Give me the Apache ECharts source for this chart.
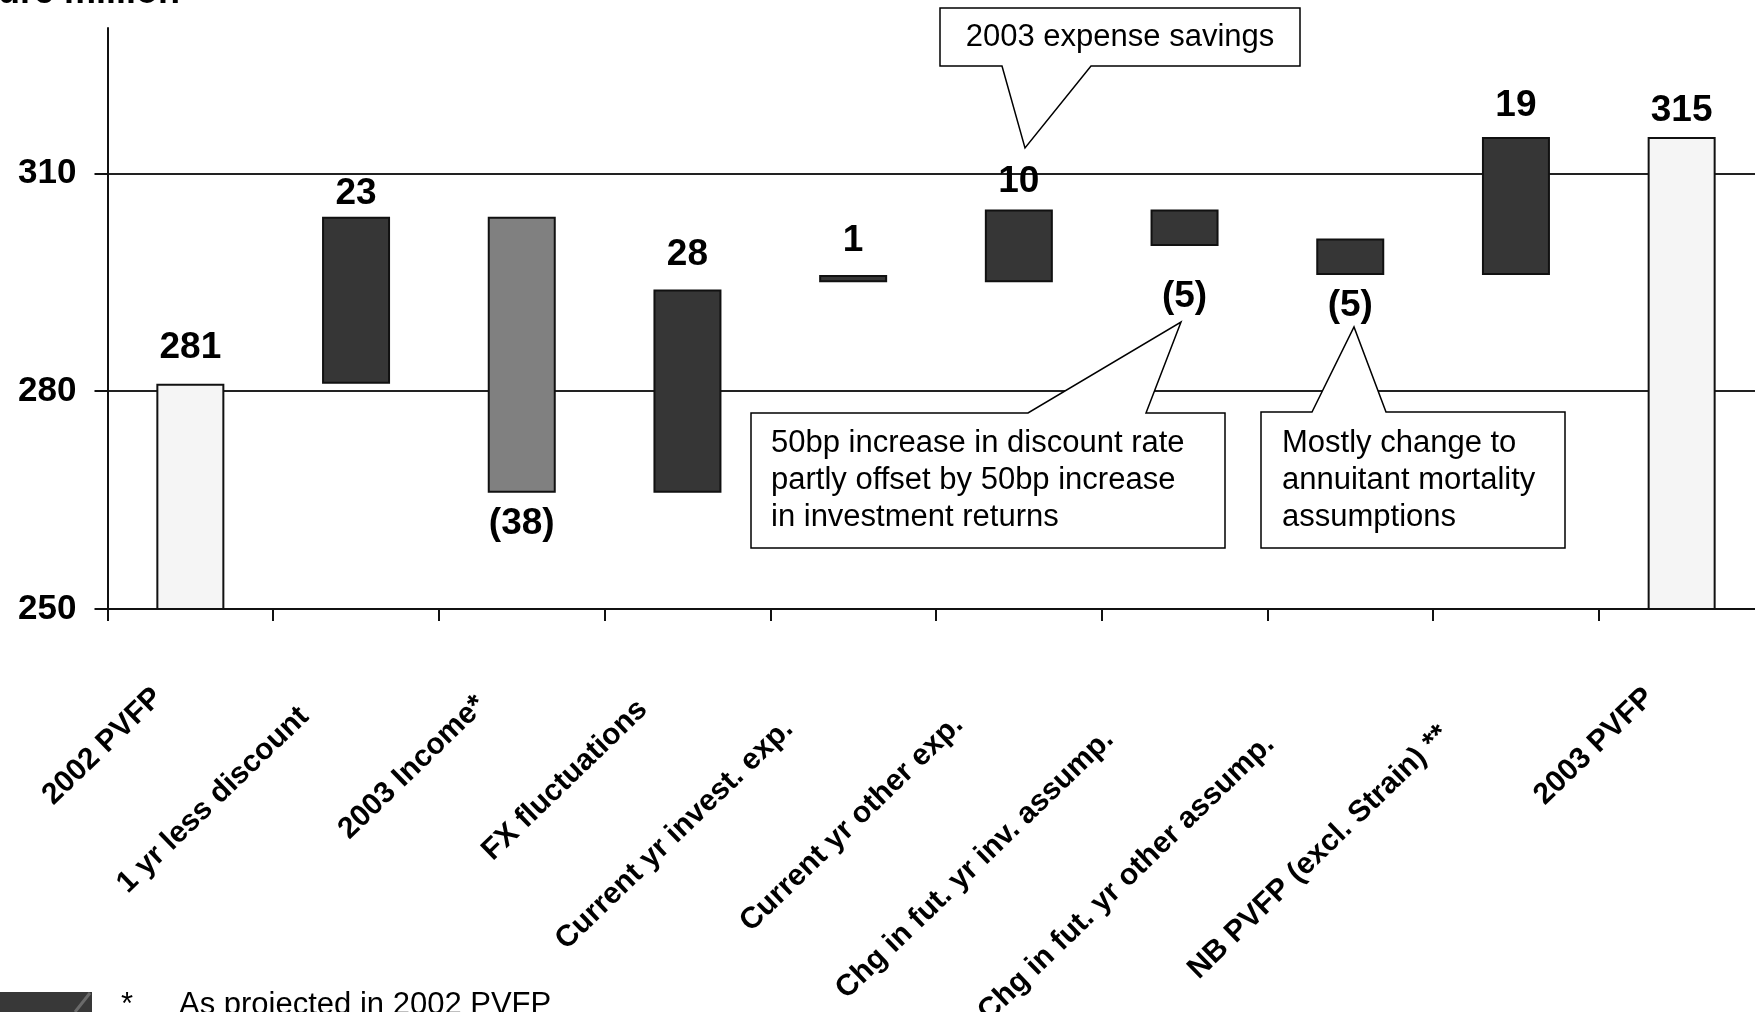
<!DOCTYPE html>
<html>
<head>
<meta charset="utf-8">
<script src="https://cdn.jsdelivr.net/npm/echarts@6/dist/echarts.min.js"></script>
<style>
  html, body { margin: 0; padding: 0; background: #ffffff; }
  #chart { width: 1755px; height: 1012px; }
</style>
</head>
<body>
<div id="chart"></div>
<script>
// PVFP movement 2002 -> 2003
const categories = [
  '2002 PVFP',
  '1 yr less discount',
  '2003 Income*',
  'FX fluctuations',
  'Current yr invest. exp.',
  'Current yr other exp.',
  'Chg in fut. yr inv. assump.',
  'Chg in fut. yr other assump.',
  'NB PVFP (excl. Strain) **',
  '2003 PVFP'
];
// signed movement of each step (totals at both ends)
const changes = [281, 23, -38, 28, 1, 10, -5, -5, 19, 315];
// lower edge of each floating bar (totals start from zero)
const barFloor = [0, 281, 266, 266, 295, 295, 300, 296, 296, 0];
// bar type: opening/closing totals, ordinary steps, income release
const barKind = ['total', 'step', 'income', 'step', 'step', 'step', 'step', 'step', 'step', 'total'];
const yTicks = [250, 280, 310];

const FONT = '"Liberation Sans", Arial, Helvetica, sans-serif';

const kindColor = { total: '#f5f5f5', step: '#363636', income: '#808080' };
// a few value labels sit a little off the default distance
const labelNudge = {
  '2002 PVFP': -2,
  '1 yr less discount': 11,
  'Current yr other exp.': 7,
  'Chg in fut. yr inv. assump.': 20,
  'NB PVFP (excl. Strain) **': 3,
  '2003 PVFP': 8
};

// slanted category labels are anchored part-way along their length
const measure = document.createElement('canvas').getContext('2d');
measure.font = 'bold 30px ' + FONT;
const xAxisData = categories.map(c => ({
  value: c,
  textStyle: { padding: [0, Math.round(0.27 * measure.measureText(c).width + 4), 0, 0] }
}));

const chart = echarts.init(document.getElementById('chart'), null, { renderer: 'canvas' });

const option = {
  animation: false,
  backgroundColor: '#ffffff',
  grid: { left: 107.5, top: 28, width: 1657, height: 581, containLabel: false, outerBoundsMode: 'none' },
  xAxis: {
    type: 'category',
    data: xAxisData,
    boundaryGap: true,
    axisLine: { lineStyle: { color: '#111', width: 2 } },
    axisTick: { show: true, length: 12, lineStyle: { color: '#111', width: 2 } },
    axisLabel: {
      interval: 0,
      rotate: 44,
      margin: 53,
      color: '#000',
      fontFamily: FONT,
      fontWeight: 'bold',
      fontSize: 30
    },
    splitLine: { show: false }
  },
  yAxis: {
    type: 'value',
    min: 250,
    max: 330,
    interval: 30,
    axisLine: { show: true, lineStyle: { color: '#111', width: 2 } },
    axisTick: { show: true, length: 13, customValues: yTicks, lineStyle: { color: '#111', width: 2 } },
    axisLabel: {
      customValues: yTicks,
      margin: 31,
      color: '#000',
      fontFamily: FONT,
      fontWeight: 'bold',
      fontSize: 35
    },
    splitLine: { show: true, lineStyle: { color: '#222', width: 2 } }
  },
  series: [
    {
      name: 'floor',
      type: 'bar',
      stack: 'walk',
      barWidth: 68,
      silent: true,
      itemStyle: { color: 'rgba(0,0,0,0)' },
      data: barFloor
    },
    {
      name: 'movement',
      type: 'bar',
      stack: 'walk',
      barWidth: 68,
      data: changes.map((v, i) => ({
        value: Math.abs(v),
        itemStyle: { color: kindColor[barKind[i]], borderColor: '#111', borderWidth: 2 },
        label: {
          show: true,
          position: v < 0 ? 'bottom' : 'top',
          distance: v < 0 ? 12 : 16,
          offset: [0, labelNudge[categories[i]] || 0],
          formatter: v < 0 ? '(' + Math.abs(v) + ')' : String(v),
          color: '#000',
          fontFamily: FONT,
          fontWeight: 'bold',
          fontSize: 37
        }
      }))
    }
  ]
};
chart.setOption(option);

// callout boxes
function callout(points, lines, textX, firstY, lineGap, centered) {
  const els = [{
    type: 'polygon',
    z: 100,
    shape: { points: points },
    style: { fill: '#ffffff', stroke: '#000', lineWidth: 1.5 }
  }];
  lines.forEach((t, k) => {
    els.push({
      type: 'text',
      z: 101,
      x: textX,
      y: firstY + k * lineGap,
      style: {
        text: t,
        font: '31px ' + FONT,
        fill: '#000',
        textAlign: centered ? 'center' : 'left',
        textVerticalAlign: 'middle'
      }
    });
  });
  return els;
}

const graphics = [].concat(
  callout([[940, 8], [1300, 8], [1300, 66], [1091, 66], [1025, 148], [1002, 66], [940, 66]],
    ['2003 expense savings'], 1120, 37, 36, true),
  callout([[751, 413], [1028, 413], [1181, 322], [1146, 413], [1225, 413], [1225, 548], [751, 548]],
    ['50bp increase in discount rate', 'partly offset by 50bp increase', 'in investment returns'], 771, 443, 37, false),
  callout([[1261, 412], [1312, 412], [1354, 327], [1386, 412], [1565, 412], [1565, 548], [1261, 548]],
    ['Mostly change to', 'annuitant mortality', 'assumptions'], 1282, 443, 37, false),
  [
    // unit caption at the top edge
    { type: 'text', x: -2, y: -7, z: 50,
      style: { text: 'ure million', font: 'bold 36px ' + FONT, fill: '#000', textAlign: 'left', textVerticalAlign: 'middle' } },
    // footnote along the bottom edge
    { type: 'text', x: 121, y: 1005, z: 50,
      style: { text: '*', font: '31px ' + FONT, fill: '#000', textAlign: 'left', textVerticalAlign: 'middle' } },
    { type: 'text', x: 179, y: 1005, z: 50,
      style: { text: 'As projected in 2002 PVFP', font: '31px ' + FONT, fill: '#000', textAlign: 'left', textVerticalAlign: 'middle' } },
    // corner badge
    { type: 'rect', z: 50, shape: { x: 0, y: 992, width: 92, height: 20 }, style: { fill: '#383838' } },
    { type: 'line', z: 51, shape: { x1: 90, y1: 993, x2: 75, y2: 1012 }, style: { stroke: '#6a6a6a', lineWidth: 3 } }
  ]
);
chart.setOption({ graphic: graphics });
</script>
</body>
</html>
